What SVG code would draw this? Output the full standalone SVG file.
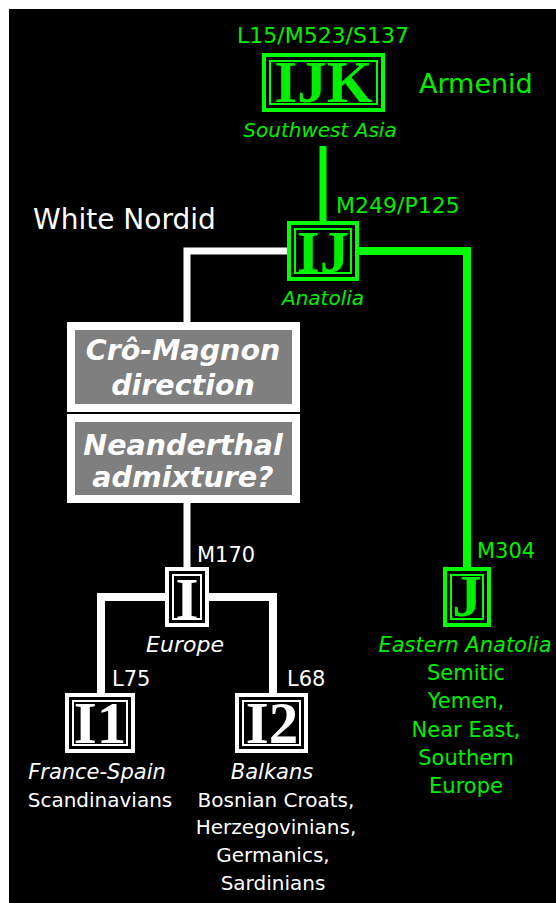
<svg xmlns="http://www.w3.org/2000/svg" width="556" height="903" viewBox="0 0 556 903">
<style>
.sans{font-family:"DejaVu Sans","Verdana",sans-serif}
.g{fill:#00ee00}
.w{fill:#ffffff}
.it{font-style:italic}
.lbl{font-size:22px}
.big{font-family:"Liberation Serif","Times New Roman",serif;font-weight:bold;font-size:59px;text-anchor:middle}
.bo{fill:none;stroke-width:4}
.bi{fill:none;stroke-width:2}
.gs{stroke:#00ff00}
.ws{stroke:#ffffff}
.mid{text-anchor:middle}
.cm{font-family:"DejaVu Sans","Verdana",sans-serif;font-weight:bold;font-style:italic;font-size:28.5px;fill:#ffffff;text-anchor:middle}
</style>
<rect x="0" y="0" width="556" height="903" fill="#ffffff"/>
<rect x="9" y="9" width="547" height="894" fill="#000000"/>
<g id="connectors">
<line x1="323" y1="146" x2="323" y2="221" stroke="#00ff00" stroke-width="7"/>
<polyline points="359,251 467,251 467,567" fill="none" stroke="#00ff00" stroke-width="8"/>
<polyline points="287,251 187,251 187,322" fill="none" stroke="#ffffff" stroke-width="7"/>
<line x1="187" y1="503" x2="187" y2="567" stroke="#ffffff" stroke-width="7"/>
<polyline points="165,597 101,597 101,693" fill="none" stroke="#ffffff" stroke-width="8"/>
<polyline points="209,597 273,597 273,693" fill="none" stroke="#ffffff" stroke-width="8"/>
</g>
<g id="node-IJK">
<text x="323" y="43" class="sans g lbl mid">L15/M523/S137</text>
<rect x="264" y="55" width="119" height="55" class="bo gs"/>
<rect x="270" y="61" width="107" height="43" class="bi gs"/>
<text x="323.5" y="102" class="big g">IJK</text>
<text x="320" y="137" class="sans g it mid" font-size="20">Southwest Asia</text>
<text x="419" y="93" class="sans g" font-size="27">Armenid</text>
</g>
<g id="node-IJ">
<text x="336" y="213" class="sans g lbl">M249/P125</text>
<rect x="289" y="223" width="68" height="56" class="bo gs"/>
<rect x="295" y="229" width="56" height="44" class="bi gs"/>
<text x="323" y="272" class="big g">IJ</text>
<text x="323" y="305" class="sans g it mid" font-size="20">Anatolia</text>
<text x="33" y="229" class="sans w" font-size="28">White Nordid</text>
</g>
<g id="node-cromagnon">
<rect x="67" y="322" width="233" height="90" fill="#ffffff"/>
<rect x="75" y="330" width="217" height="74" fill="#7f7f7f"/>
<text x="183" y="360" class="cm">Crô-Magnon</text>
<text x="183" y="395" class="cm">direction</text>
</g>
<g id="node-neanderthal">
<rect x="67" y="414" width="233" height="89" fill="#ffffff"/>
<rect x="75" y="422" width="217" height="73" fill="#7f7f7f"/>
<text x="183" y="455" class="cm">Neanderthal</text>
<text x="183" y="487" class="cm">admixture?</text>
</g>
<g id="node-I">
<text x="197" y="562" class="sans w" font-size="21">M170</text>
<rect x="167" y="569" width="40" height="56" class="bo ws"/>
<rect x="173" y="575" width="28" height="44" class="bi ws"/>
<text x="187" y="619" class="big w">I</text>
<text x="185" y="652" class="sans w it mid" font-size="22">Europe</text>
</g>
<g id="node-I1">
<text x="112" y="686" class="sans w" font-size="21">L75</text>
<rect x="67" y="695" width="66" height="56" class="bo ws"/>
<rect x="73" y="701" width="54" height="44" class="bi ws"/>
<text x="100" y="743" class="big w" font-size="56">I1</text>
<text x="97" y="779" class="sans w it mid" font-size="21">France-Spain</text>
<text x="100" y="807" class="sans w mid" font-size="20">Scandinavians</text>
</g>
<g id="node-I2">
<text x="287" y="686" class="sans w" font-size="21">L68</text>
<rect x="237" y="695" width="69" height="56" class="bo ws"/>
<rect x="243" y="701" width="57" height="44" class="bi ws"/>
<text x="272" y="743" class="big w" font-size="56">I2</text>
<text x="272" y="779" class="sans w it mid" font-size="21">Balkans</text>
<text x="276" y="807" class="sans w mid" font-size="20">Bosnian Croats,</text>
<text x="276" y="834" class="sans w mid" font-size="20">Herzegovinians,</text>
<text x="273" y="862" class="sans w mid" font-size="20">Germanics,</text>
<text x="273" y="890" class="sans w mid" font-size="20">Sardinians</text>
</g>
<g id="node-J">
<text x="477" y="558" class="sans g" font-size="21">M304</text>
<rect x="445" y="569" width="44" height="56" class="bo gs"/>
<rect x="451" y="575" width="32" height="44" class="bi gs"/>
<text x="467" y="616" class="big g">J</text>
<text x="465" y="652" class="sans g it mid" font-size="21">Eastern Anatolia</text>
<text x="466" y="680" class="sans g mid" font-size="21">Semitic</text>
<text x="466" y="708" class="sans g mid" font-size="21">Yemen,</text>
<text x="466" y="737" class="sans g mid" font-size="21">Near East,</text>
<text x="466" y="765" class="sans g mid" font-size="21">Southern</text>
<text x="466" y="793" class="sans g mid" font-size="21">Europe</text>
</g>
</svg>
